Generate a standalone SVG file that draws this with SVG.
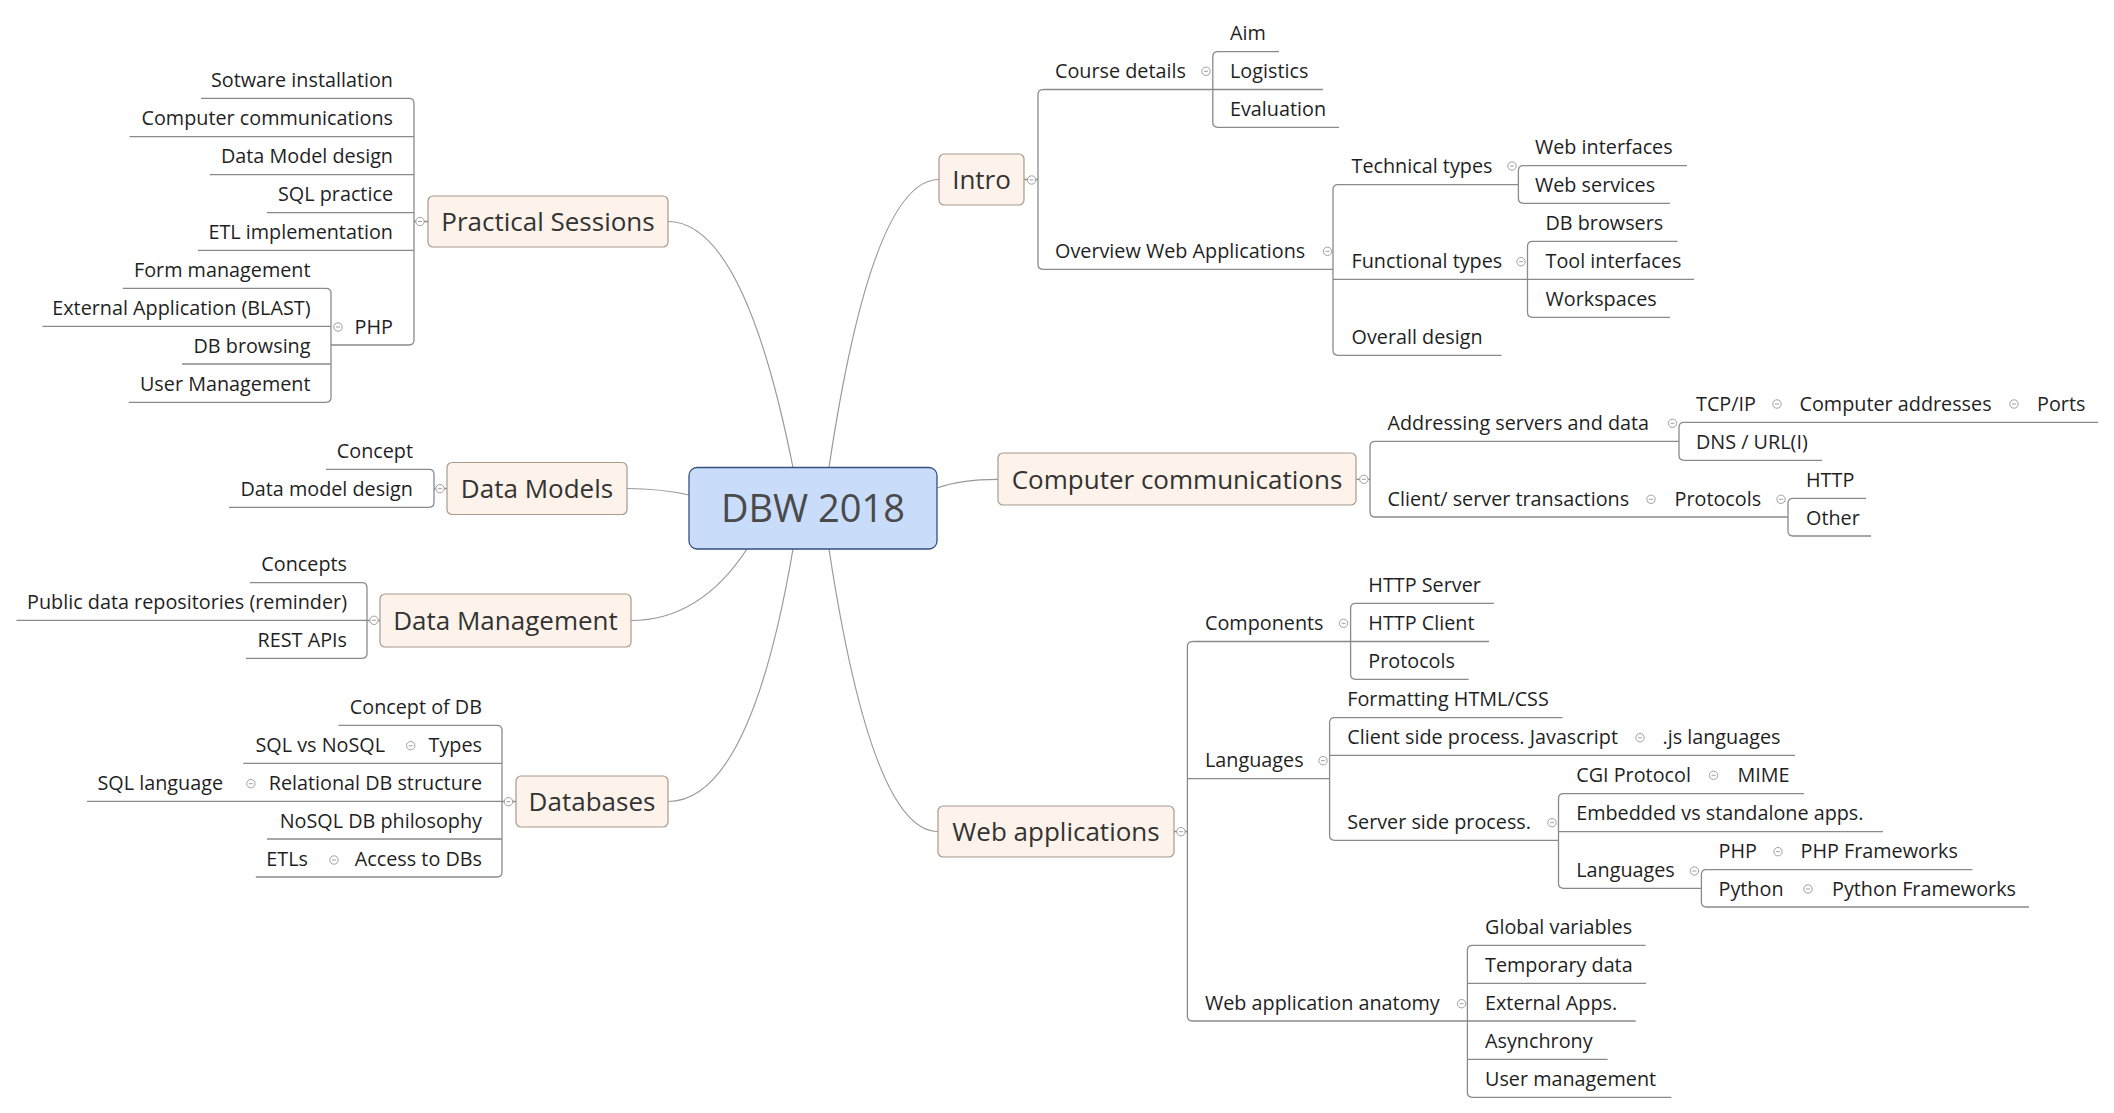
<svg xmlns="http://www.w3.org/2000/svg" xmlns:xlink="http://www.w3.org/1999/xlink" width="2114" height="1113" viewBox="0 0 2114 1113">
<style>
text{font-family:"Open Sans","Noto Sans",sans-serif}
.t{font-size:19.8px;fill:#1f1f1f}
.e{text-anchor:end}
.m{font-size:26px;fill:#333;text-anchor:middle}
.c{font-size:38px;fill:#4a4a4a;text-anchor:middle}
.ln{fill:none;stroke:#8a8a8a;stroke-width:1.3}
.cv{fill:none;stroke:#999;stroke-width:1.2}
.box{fill:#fdf3ea;stroke:#a89a8e;stroke-width:1.2}
.root{fill:#c9dcfa;stroke:#34507e;stroke-width:1.3}
</style>
<defs>
<g id="mk"><circle r="4.2" fill="#fff" stroke="#a0a0a0" stroke-width="1"/><path d="M-2 0H2" stroke="#a0a0a0" stroke-width="1"/></g>
</defs>
<rect width="2114" height="1113" fill="#fff"/>
<g id="connectors">
<path class="cv" d="M668 221.5 Q744 221.5 793 467.5"/>
<path class="cv" d="M829 467.5 Q872 179.5 939 179.5"/>
<path class="cv" d="M627 488.5 Q660 488.5 689 495"/>
<path class="cv" d="M631 620.5 Q700 620.5 747 549"/>
<path class="cv" d="M668 801.5 Q750 801.5 793 549"/>
<path class="cv" d="M937 488 Q960 479.3 998 479.3"/>
<path class="cv" d="M829 549 Q872 831.5 938 831.5"/>
<path class="ln" d="M409 98.3 Q414 98.3 414 103.3 V340 Q414 345 409 345 M201 98.3 H409 M129.5 136.7 H414 M209.8 174.7 H414 M267 212.7 H414 M198 250.3 H414 M331 345 H409 M414 221.5 H428"/>
<path class="ln" d="M326 288.3 Q331 288.3 331 293.3 V397.3 Q331 402.3 326 402.3 M122.8 288.3 H326 M42.4 326.3 H331 M182 364 H331 M128.6 402.3 H326"/>
<path class="ln" d="M429 469.3 Q434 469.3 434 474.3 V502.3 Q434 507.3 429 507.3 M326 469.3 H429 M229 507.3 H429 M434 488.5 H447"/>
<path class="ln" d="M362 582.7 Q367 582.7 367 587.7 V653.3 Q367 658.3 362 658.3 M250 582.7 H362 M16.5 620.3 H367 M246 658.3 H362 M367 620.5 H380"/>
<path class="ln" d="M497 725.3 Q502 725.3 502 730.3 V872 Q502 877 497 877 M338.4 725.3 H497 M243.3 763.3 H502 M87 801.3 H502 M267 839 H502 M255.8 877 H497 M502 801.5 H516"/>
<path class="ln" d="M1043 89.7 Q1038 89.7 1038 94.7 V264.3 Q1038 269.3 1043 269.3 M1043 89.5 H1323 M1043 269.3 H1333 M1024 179.5 H1038"/>
<path class="ln" d="M1217.8 51.7 Q1212.8 51.7 1212.8 56.7 V122.3 Q1212.8 127.3 1217.8 127.3 M1217.8 51.7 H1279 M1217.8 127.3 H1339"/>
<path class="ln" d="M1338 184.7 Q1333 184.7 1333 189.7 V350.3 Q1333 355.3 1338 355.3 M1338 184.7 H1518.4 M1333 279.3 H1694 M1338 355.3 H1501.5"/>
<path class="ln" d="M1523.4 165.7 Q1518.4 165.7 1518.4 170.7 V198.3 Q1518.4 203.3 1523.4 203.3 M1523.4 165.7 H1687 M1523.4 203.3 H1670"/>
<path class="ln" d="M1532.5 241.3 Q1527.5 241.3 1527.5 246.3 V312.3 Q1527.5 317.3 1532.5 317.3 M1532.5 241.3 H1677.5 M1532.5 317.3 H1670"/>
<path class="ln" d="M1375 441.3 Q1370 441.3 1370 446.3 V512 Q1370 517 1375 517 M1375 441.3 H1679 M1375 517 H1788 M1356 479.3 H1370"/>
<path class="ln" d="M1684 422.3 Q1679 422.3 1679 427.3 V455.3 Q1679 460.3 1684 460.3 M1684 422.3 H2098 M1684 460.3 H1822"/>
<path class="ln" d="M1793 498.3 Q1788 498.3 1788 503.3 V531 Q1788 536 1793 536 M1793 498.3 H1866 M1793 536 H1871"/>
<path class="ln" d="M1192.4 641.7 Q1187.4 641.7 1187.4 646.7 V1016 Q1187.4 1021 1192.4 1021 M1192.4 641.5 H1489 M1187.4 778.7 H1329.6 M1192.4 1021 H1635.7 M1174 831.5 H1187.4"/>
<path class="ln" d="M1355.6 603.3 Q1350.6 603.3 1350.6 608.3 V674.3 Q1350.6 679.3 1355.6 679.3 M1355.6 603.3 H1494 M1355.6 679.3 H1468.6"/>
<path class="ln" d="M1334.6 717.7 Q1329.6 717.7 1329.6 722.7 V835.3 Q1329.6 840.3 1334.6 840.3 M1334.6 717.7 H1562.4 M1329.6 755.3 H1795 M1334.6 840.3 H1558.5"/>
<path class="ln" d="M1563.5 793.7 Q1558.5 793.7 1558.5 798.7 V883.3 Q1558.5 888.3 1563.5 888.3 M1563.5 793.7 H1804 M1558.5 831.7 H1883 M1563.5 888.3 H1701.4"/>
<path class="ln" d="M1706.4 869.7 Q1701.4 869.7 1701.4 874.7 V902 Q1701.4 907 1706.4 907 M1706.4 869.7 H1972.4 M1706.4 907 H2029"/>
<path class="ln" d="M1472.4 945.3 Q1467.4 945.3 1467.4 950.3 V1092.3 Q1467.4 1097.3 1472.4 1097.3 M1472.4 945.3 H1645.5 M1467.4 983.3 H1646 M1467.4 1059.3 H1607.6 M1472.4 1097.3 H1671.4"/>
</g>
<g id="markers">
<use href="#mk" x="420" y="221.5"/><use href="#mk" x="338" y="327"/><use href="#mk" x="440" y="488.7"/><use href="#mk" x="374" y="620.3"/><use href="#mk" x="508.5" y="801.7"/><use href="#mk" x="410.7" y="745.7"/><use href="#mk" x="250.9" y="783.7"/><use href="#mk" x="334" y="860"/>
<use href="#mk" x="1031.6" y="180"/><use href="#mk" x="1206" y="71.3"/><use href="#mk" x="1327.5" y="251.3"/><use href="#mk" x="1512" y="166"/><use href="#mk" x="1521" y="261.7"/>
<use href="#mk" x="1363.8" y="479.3"/><use href="#mk" x="1672.5" y="423.3"/><use href="#mk" x="1777" y="404"/><use href="#mk" x="2014" y="404"/><use href="#mk" x="1651" y="499.3"/><use href="#mk" x="1781" y="499.3"/>
<use href="#mk" x="1181" y="831.7"/><use href="#mk" x="1343.6" y="623.3"/><use href="#mk" x="1323" y="760.7"/><use href="#mk" x="1640" y="737.7"/><use href="#mk" x="1552" y="822.7"/><use href="#mk" x="1713.5" y="775.3"/><use href="#mk" x="1694.4" y="871"/><use href="#mk" x="1778" y="851.7"/><use href="#mk" x="1808" y="889"/><use href="#mk" x="1461.6" y="1003.7"/>
</g>
<g id="n-root"><rect class="root" x="689" y="467.5" width="248" height="81.5" rx="8"/><text class="c" x="813" y="521.5">DBW 2018</text></g>
<g id="n-practical"><rect class="box" x="428" y="196" width="240" height="51" rx="5"/><text class="m" x="548" y="230.5">Practical Sessions</text></g>
<g id="n-datamodels"><rect class="box" x="447" y="462.5" width="180" height="52" rx="5"/><text class="m" x="537" y="497.5">Data Models</text></g>
<g id="n-datamgmt"><rect class="box" x="380" y="594" width="251" height="53" rx="5"/><text class="m" x="505.5" y="629.5">Data Management</text></g>
<g id="n-databases"><rect class="box" x="516" y="776" width="152" height="51" rx="5"/><text class="m" x="592" y="810.5">Databases</text></g>
<g id="n-intro"><rect class="box" x="939" y="154" width="85" height="51" rx="5"/><text class="m" x="981.5" y="188.5">Intro</text></g>
<g id="n-compcomm"><rect class="box" x="998" y="453" width="358" height="52" rx="5"/><text class="m" x="1177" y="488.5">Computer communications</text></g>
<g id="n-webapps"><rect class="box" x="938" y="806" width="236" height="51" rx="5"/><text class="m" x="1056" y="840.5">Web applications</text></g>
<g id="n-practical-children">
<text class="t e" x="393" y="86.8">Sotware installation</text>
<text class="t e" x="393" y="125.2">Computer communications</text>
<text class="t e" x="393" y="163.2">Data Model design</text>
<text class="t e" x="393" y="201.2">SQL practice</text>
<text class="t e" x="393" y="238.8">ETL implementation</text>
<text class="t e" x="393" y="333.5">PHP</text>
<text class="t e" x="310.5" y="276.8">Form management</text>
<text class="t e" x="310.5" y="314.8">External Application (BLAST)</text>
<text class="t e" x="310.5" y="352.5">DB browsing</text>
<text class="t e" x="310.5" y="390.8">User Management</text>
</g>
<g id="n-datamodels-children">
<text class="t e" x="413" y="457.8">Concept</text>
<text class="t e" x="413" y="495.8">Data model design</text>
</g>
<g id="n-datamgmt-children">
<text class="t e" x="347" y="571.2">Concepts</text>
<text class="t e" x="347" y="608.8">Public data repositories (reminder)</text>
<text class="t e" x="347" y="646.8">REST APIs</text>
</g>
<g id="n-databases-children">
<text class="t e" x="482" y="713.8">Concept of DB</text>
<text class="t e" x="482" y="751.8">Types</text>
<text class="t e" x="385" y="751.8">SQL vs NoSQL</text>
<text class="t e" x="482" y="789.8">Relational DB structure</text>
<text class="t e" x="223" y="789.8">SQL language</text>
<text class="t e" x="482" y="827.5">NoSQL DB philosophy</text>
<text class="t e" x="482" y="865.5">Access to DBs</text>
<text class="t e" x="308" y="865.5">ETLs</text>
</g>
<g id="n-intro-children">
<text class="t" x="1055" y="78.2">Course details</text>
<text class="t" x="1230" y="40.2">Aim</text>
<text class="t" x="1230" y="77.8">Logistics</text>
<text class="t" x="1230" y="115.8">Evaluation</text>
<text class="t" x="1055" y="257.8">Overview Web Applications</text>
<text class="t" x="1351.5" y="173.2">Technical types</text>
<text class="t" x="1535" y="154.2">Web interfaces</text>
<text class="t" x="1535" y="191.8">Web services</text>
<text class="t" x="1351.5" y="267.8">Functional types</text>
<text class="t" x="1545.5" y="229.8">DB browsers</text>
<text class="t" x="1545.5" y="267.8">Tool interfaces</text>
<text class="t" x="1545.5" y="305.8">Workspaces</text>
<text class="t" x="1351.5" y="343.8">Overall design</text>
</g>
<g id="n-compcomm-children">
<text class="t" x="1387.5" y="429.8">Addressing servers and data</text>
<text class="t" x="1696" y="410.8">TCP/IP</text>
<text class="t" x="1799.5" y="410.8">Computer addresses</text>
<text class="t" x="2037" y="410.8">Ports</text>
<text class="t" x="1696" y="448.8">DNS / URL(I)</text>
<text class="t" x="1387.5" y="505.5">Client/ server transactions</text>
<text class="t" x="1674.5" y="505.5">Protocols</text>
<text class="t" x="1806" y="486.8">HTTP</text>
<text class="t" x="1806" y="524.5">Other</text>
</g>
<g id="n-webapps-children">
<text class="t" x="1205" y="630.2">Components</text>
<text class="t" x="1368.3" y="591.8">HTTP Server</text>
<text class="t" x="1368.3" y="629.8">HTTP Client</text>
<text class="t" x="1368.3" y="667.8">Protocols</text>
<text class="t" x="1205" y="767.2">Languages</text>
<text class="t" x="1347.2" y="706.2">Formatting HTML/CSS</text>
<text class="t" x="1347.2" y="743.8">Client side process. Javascript</text>
<text class="t" x="1662.5" y="743.8">.js languages</text>
<text class="t" x="1347.2" y="828.8">Server side process.</text>
<text class="t" x="1576.2" y="782.2">CGI Protocol</text>
<text class="t" x="1737.5" y="782.2">MIME</text>
<text class="t" x="1576.2" y="820.2">Embedded vs standalone apps.</text>
<text class="t" x="1576.2" y="876.8">Languages</text>
<text class="t" x="1718.5" y="858.2">PHP</text>
<text class="t" x="1800.5" y="858.2">PHP Frameworks</text>
<text class="t" x="1718.5" y="895.5">Python</text>
<text class="t" x="1832" y="895.5">Python Frameworks</text>
<text class="t" x="1205" y="1009.5">Web application anatomy</text>
<text class="t" x="1485" y="933.8">Global variables</text>
<text class="t" x="1485" y="971.8">Temporary data</text>
<text class="t" x="1485" y="1009.5">External Apps.</text>
<text class="t" x="1485" y="1047.8">Asynchrony</text>
<text class="t" x="1485" y="1085.8">User management</text>
</g>
</svg>
